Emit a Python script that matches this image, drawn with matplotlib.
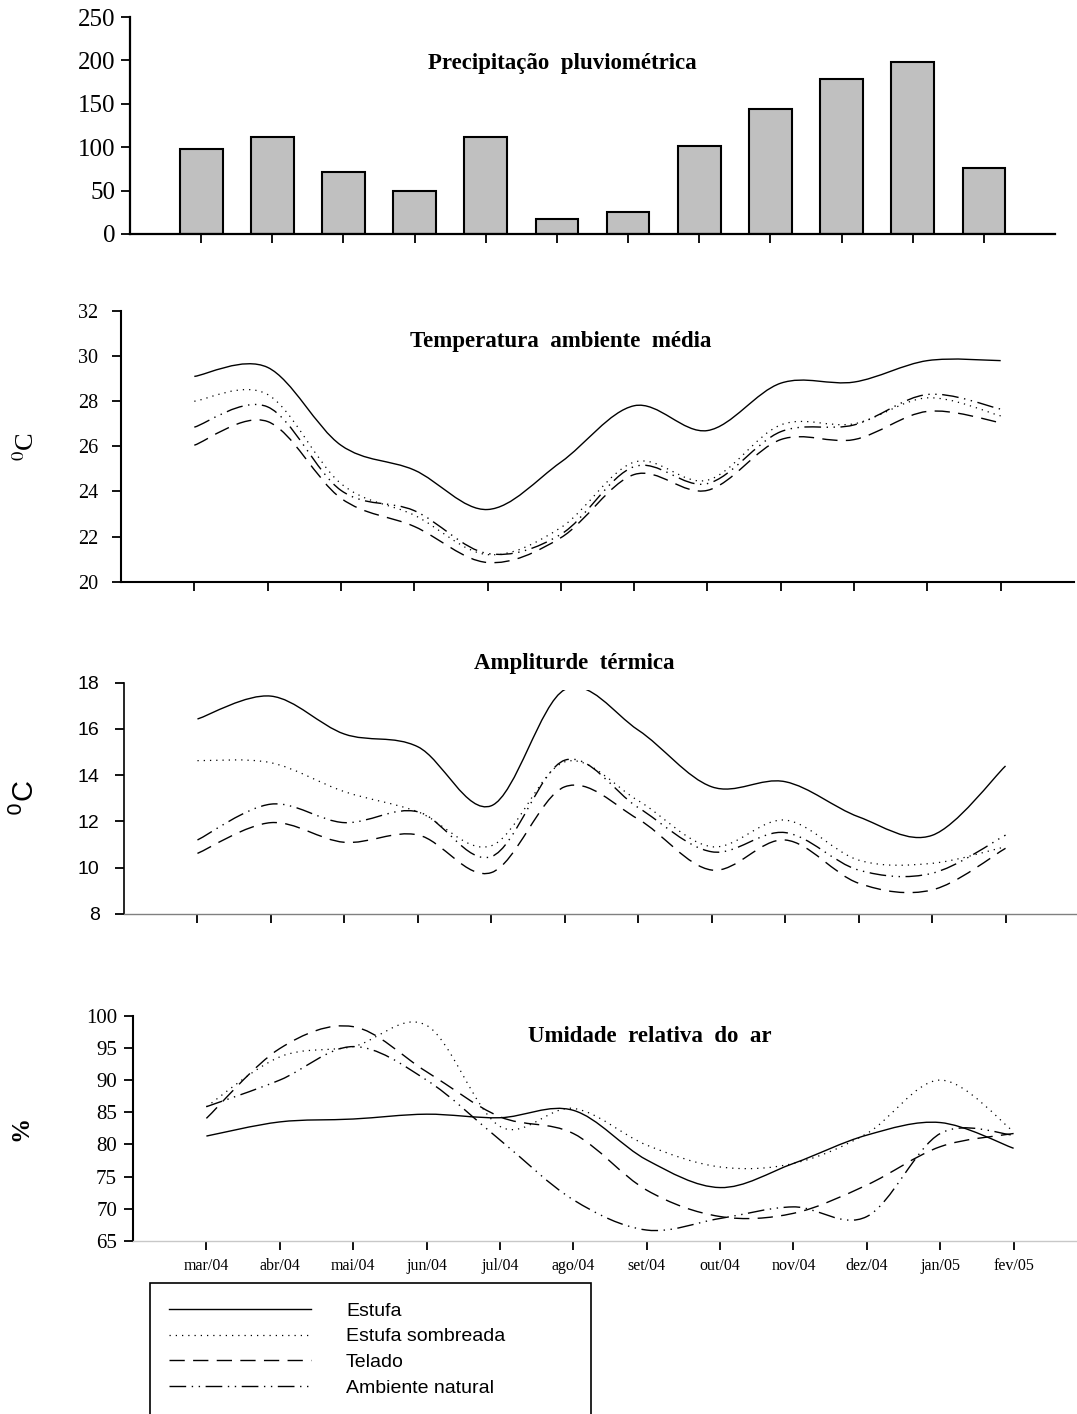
import numpy as np
import matplotlib
matplotlib.use("Agg")
import matplotlib.pyplot as plt
from matplotlib.path import Path
from matplotlib.patches import PathPatch, Rectangle
from matplotlib.lines import Line2D

plt.rcParams['font.family'] = ['Liberation Serif', 'DejaVu Serif']
SANS = ['Liberation Sans', 'DejaVu Sans']

# ---- data ----
months = ['mar/04', 'abr/04', 'mai/04', 'jun/04', 'jul/04', 'ago/04',
          'set/04', 'out/04', 'nov/04', 'dez/04', 'jan/05', 'fev/05']

rain = [98, 112, 71, 49, 112, 17, 25, 101, 144, 179, 198, 76]

series_names = ['Estufa', 'Estufa sombreada', 'Telado', 'Ambiente natural']

temp_estufa = [29.1, 29.5, 26.05, 24.95, 23.2, 25.3, 27.8, 26.7, 28.8, 28.85, 29.8, 29.8]
temp_sombreada = [28.0, 28.3, 24.35, 22.95, 21.2, 22.4, 25.3, 24.5, 26.95, 27.0, 28.15, 27.35]
temp_telado = [26.05, 27.1, 23.7, 22.45, 20.85, 21.95, 24.75, 24.05, 26.3, 26.3, 27.55, 27.05]
temp_natural = [26.85, 27.75, 24.05, 23.15, 21.25, 22.1, 25.1, 24.35, 26.65, 26.95, 28.3, 27.65]

amp_estufa = [16.43, 17.42, 15.78, 15.23, 12.68, 17.7, 15.95, 13.5, 13.72, 12.2, 11.4, 14.4]
amp_sombreada = [14.63, 14.54, 13.29, 12.42, 10.95, 14.58, 12.9, 10.91, 12.06, 10.33, 10.19, 10.91]
amp_telado = [10.62, 11.95, 11.1, 11.42, 9.79, 13.5, 12.1, 9.9, 11.2, 9.33, 9.04, 10.84]
amp_natural = [11.2, 12.75, 11.95, 12.42, 10.48, 14.65, 12.6, 10.69, 11.52, 9.9, 9.76, 11.41]

ur_estufa = [81.3, 83.5, 83.95, 84.7, 84.15, 85.3, 77.6, 73.3, 77.05, 81.45, 83.4, 79.4]
ur_sombreada = [85.86, 93.6, 95.2, 98.5, 82.8, 85.6, 79.9, 76.5, 77.05, 81.7, 90.0, 82.0]
ur_telado = [84.05, 94.9, 98.3, 91.3, 84.3, 81.7, 72.9, 68.8, 69.3, 73.7, 79.65, 81.7]
ur_natural = [85.86, 90.0, 95.2, 90.0, 80.7, 71.4, 66.7, 68.5, 70.3, 68.8, 81.7, 81.45]

rain_ticks = [0, 50, 100, 150, 200, 250]
temp_ticks = [20, 22, 24, 26, 28, 30, 32]
amp_ticks = [8, 10, 12, 14, 16, 18]
ur_ticks = [65, 70, 75, 80, 85, 90, 95, 100]

styles = {
    'Estufa': dict(linestyle='-', linewidth=1.0),
    'Estufa sombreada': dict(linestyle=(0, (1, 4)), linewidth=0.9),
    'Telado': dict(linestyle=(0, (11, 6)), linewidth=1.0),
    'Ambiente natural': dict(linestyle=(0, (12, 4, 1, 4, 1, 4)), linewidth=1.0),
}

W, H = 1077, 1414
fig = plt.figure(figsize=(W / 100, H / 100), dpi=100)


def place(l, r, t, b):
    return fig.add_axes([l / W, 1 - b / H, (r - l) / W, (b - t) / H])


def fxy(px, py):
    return px / W, 1 - py / H


def smooth(ax, y, style):
    # excel-like smoothed line: cubic bezier through the monthly values
    pts = np.column_stack([np.arange(len(y), dtype=float), np.asarray(y, float)])
    prev = np.vstack([pts[:1], pts[:-1]])
    nxt = np.vstack([pts[1:], pts[-1:]])
    tang = (nxt - prev) / 6.0
    verts, codes = [pts[0]], [Path.MOVETO]
    for i in range(len(pts) - 1):
        verts += [pts[i] + tang[i], pts[i + 1] - tang[i + 1], pts[i + 1]]
        codes += [Path.CURVE4] * 3
    ax.add_patch(PathPatch(Path(verts, codes), fill=False, edgecolor='black',
                           capstyle='butt', **style))


def base_axes(ax, yticks, spine_w=1.5, xcol='black'):
    for s in ['top', 'right']:
        ax.spines[s].set_visible(False)
    ax.spines['left'].set_linewidth(spine_w)
    ax.spines['bottom'].set_linewidth(1.0 if xcol != 'black' else spine_w)
    ax.spines['bottom'].set_color(xcol)
    ax.set_yticks(yticks)
    ax.set_xticks(range(len(months)))
    ax.tick_params(axis='both', direction='out', length=6.5, width=1.3, color='black')


# ---- precipitation ----
ax1 = place(130, 1055, 17, 234)
ax1.bar(range(len(rain)), rain, width=0.6, color='#c0c0c0', edgecolor='black', linewidth=1.5)
ax1.set_xlim(-1, 12)
ax1.set_ylim(0, 250)
base_axes(ax1, rain_ticks, spine_w=1.6)
ax1.set_xticklabels([])
ax1.tick_params(axis='y', labelsize=18, pad=4)
fig.text(*fxy(562, 63), 'Precipitação  pluviométrica', ha='center', va='center',
         fontsize=16.5, fontweight='bold')

# ---- mean temperature ----
ax2 = place(121, 1074, 311, 581.7)
for name, vals in zip(series_names, [temp_estufa, temp_sombreada, temp_telado, temp_natural]):
    smooth(ax2, vals, styles[name])
ax2.set_xlim(-1, 12)
ax2.set_ylim(20, 32)
base_axes(ax2, temp_ticks, spine_w=1.5)
ax2.set_xticklabels([])
ax2.tick_params(axis='y', labelsize=14.5, pad=10)
ax2.set_ylabel(r'$^0$C', fontsize=19, math_fontfamily='stix')
ax2.yaxis.set_label_coords(-0.086, 0.5)
fig.text(*fxy(561, 342), 'Temperatura  ambiente  média', ha='center', va='center',
         fontsize=16.5, fontweight='bold')

# ---- thermal amplitude ----
ax3 = place(124, 1079, 682.7, 914)
for name, vals in zip(series_names, [amp_estufa, amp_sombreada, amp_telado, amp_natural]):
    smooth(ax3, vals, styles[name])
ax3.set_xlim(-1, 12)
ax3.set_ylim(8, 18)
base_axes(ax3, amp_ticks, spine_w=1.2, xcol='#808080')
ax3.set_xticklabels([])
ax3.tick_params(axis='y', labelsize=14, pad=11)
for lab in ax3.get_yticklabels():
    lab.set_family(SANS)
ax3.set_ylabel(r'$^0$C', fontsize=21, family=SANS, math_fontfamily='dejavusans')
ax3.yaxis.set_label_coords(-0.088, 0.5)
fig.text(*fxy(574.5, 663), 'Ampliturde  térmica', ha='center', va='center',
         fontsize=16.5, fontweight='bold',
         bbox=dict(facecolor='white', edgecolor='none', pad=12), zorder=5)

# ---- relative humidity ----
ax4 = place(133, 1087, 1015.7, 1241)
for name, vals in zip(series_names, [ur_estufa, ur_sombreada, ur_telado, ur_natural]):
    smooth(ax4, vals, styles[name])
ax4.set_xlim(-1, 12)
ax4.set_ylim(65, 100)
base_axes(ax4, ur_ticks, spine_w=1.5, xcol='#c8c8c8')
ax4.set_xticklabels(months, fontsize=11.5)
ax4.tick_params(axis='x', pad=6)
ax4.tick_params(axis='y', labelsize=15, pad=5)
ax4.set_ylabel('%', fontsize=18, fontweight='bold')
ax4.yaxis.set_label_coords(-0.105, 0.5)
fig.text(*fxy(650, 1036), 'Umidade  relativa  do  ar', ha='center', va='center',
         fontsize=16.5, fontweight='bold')

# ---- legend ----
handles = [Line2D([], [], color='black', **styles[n]) for n in series_names]
fig.legend(handles, series_names, loc='upper left', bbox_to_anchor=fxy(169, 1302),
           frameon=False, prop={'family': SANS, 'size': 14}, handlelength=7.3,
           handletextpad=1.8, labelspacing=0.42, borderpad=0, borderaxespad=0)
fig.patches.append(Rectangle(fxy(150, 1440), 441 / W, 157 / H, transform=fig.transFigure,
                             fill=False, edgecolor='black', linewidth=1.2))

fig.savefig('out.png', dpi=100)
